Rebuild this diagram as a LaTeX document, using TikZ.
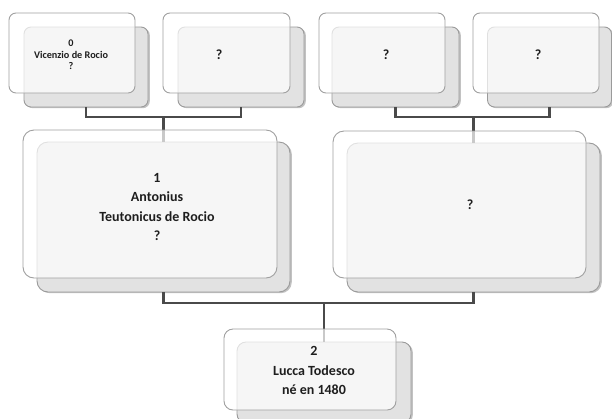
\documentclass[tikz,border=0pt]{standalone}
\usepackage{fontspec}
\setmainfont{Carlito}
\usetikzlibrary{shadows}
\definecolor{linkcol}{HTML}{4A4A4A}
\definecolor{backfill}{HTML}{E2E2E2}
\definecolor{backedge}{HTML}{9A9A9A}
\definecolor{frontedge}{HTML}{A0A0A0}
\definecolor{inkcol}{HTML}{1E1E1E}
\begin{document}
\begin{tikzpicture}[x=1pt,y=-1pt,
  backbox/.style n args={2}{rectangle, rounded corners=#2, minimum width=#1, inner sep=0pt,
    fill=backfill, draw=backedge, line width=0.9pt,
    drop shadow={shadow xshift=1.8pt, shadow yshift=-1.2pt, opacity=0.4, fill=black!60}},
  frontbox/.style={rectangle, inner sep=0pt, fill=white, fill opacity=0.7,
    draw=frontedge, draw opacity=1, line width=0.9pt},
  link/.style={draw=linkcol, line width=2.4pt},
  small/.style={font=\bfseries\fontsize{10.2}{11.5}\selectfont, text=inkcol, align=center},
  big/.style={font=\bfseries\fontsize{14}{19.5}\selectfont, text=inkcol, align=center},
  large/.style={font=\bfseries\fontsize{14}{19.5}\selectfont, text=inkcol, align=center},
]
\useasboundingbox (0,0) rectangle (612,418);

% ---- back cards ----
\node[backbox={124pt}{7pt}, minimum height=80pt] (Ab) at (86,67) {};
\node[backbox={126pt}{7pt}, minimum height=80pt] (Bb) at (241,67) {};
\node[backbox={127pt}{7pt}, minimum height=80pt] (Cb) at (395.5,67) {};
\node[backbox={124pt}{7pt}, minimum height=80pt] (Db) at (549.5,67) {};
\node[backbox={253pt}{11pt}, minimum height=150pt] (Eb) at (163.5,217) {};
\node[backbox={253pt}{11pt}, minimum height=149pt] (Fb) at (473.5,217.5) {};
\node[backbox={174pt}{9pt}, minimum height=81pt] (Gb) at (324,382.5) {};

% ---- connectors ----
\coordinate (jA) at (163.5,117);
\coordinate (jC) at (473.5,117);
\coordinate (jE) at (324,303);
\draw[link] (Ab.south) |- (jA) -| (Bb.south);
\draw[link] (jA) -- (Eb.north);
\draw[link] (Cb.south) |- (jC) -| (Db.south);
\draw[link] (jC) -- (Fb.north);
\draw[link] (Eb.south) |- (jE) -| (Fb.south);
\draw[link] (jE) -- (Gb.north);

% ---- front cards ----
\node[frontbox, rounded corners=7pt, minimum width=126pt, minimum height=80pt] (Af) at (72,53) {};
\node[frontbox, rounded corners=7pt, minimum width=127pt, minimum height=80pt] (Bf) at (226.5,53) {};
\node[frontbox, rounded corners=7pt, minimum width=126pt, minimum height=80pt] (Cf) at (382,53) {};
\node[frontbox, rounded corners=7pt, minimum width=126pt, minimum height=80pt] (Df) at (536,53) {};
\node[frontbox, rounded corners=11pt, minimum width=254pt, minimum height=148pt] (Ef) at (150,204) {};
\node[frontbox, rounded corners=11pt, minimum width=253pt, minimum height=147pt] (Ff) at (459.5,204.5) {};
\node[frontbox, rounded corners=9pt, minimum width=172pt, minimum height=81pt] (Gf) at (310,369.5) {};

% ---- labels ----
\node[small] (At) at (71,55) {0\\Vicenzio de Rocio\\?};
\node[big] (Bt) at (219,55) {?};
\node[big] (Ct) at (386,55) {?};
\node[big] (Dt) at (538,55) {?};
\node[large] (Et) at (157,207) {1\\Antonius\\Teutonicus de Rocio\\?};
\node[large] (Ft) at (470,205) {?};
\node[large] (Gt) at (314,370.5) {2\\Lucca Todesco\\né en 1480};
\end{tikzpicture}
\end{document}
